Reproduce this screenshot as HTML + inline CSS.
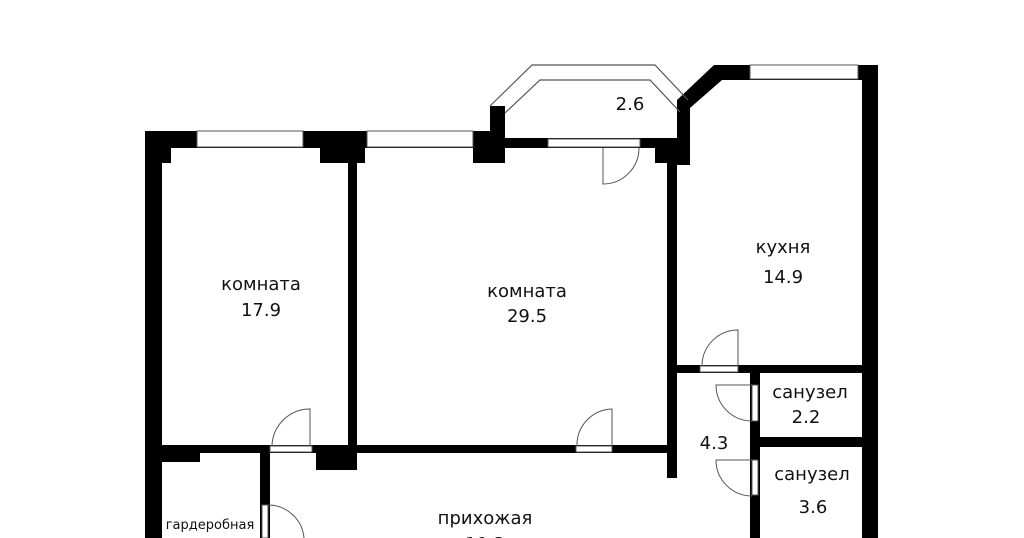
<!DOCTYPE html>
<html><head><meta charset="utf-8"><style>
html,body{margin:0;padding:0;background:#fff;}
svg{display:block;}
text{font-family:"DejaVu Sans","Liberation Sans",sans-serif;fill:#111;text-anchor:middle;}
</style></head><body>
<svg width="1024" height="538" viewBox="0 0 1024 538" xmlns="http://www.w3.org/2000/svg">
<rect width="1024" height="538" fill="#fff"/>
<g fill="#000">
<rect x="145" y="131" width="208" height="17"/>
<rect x="145" y="131" width="26" height="32"/>
<rect x="145" y="131" width="17" height="407"/>
<rect x="303" y="131" width="62" height="17"/>
<rect x="320" y="131" width="45" height="32"/>
<rect x="348" y="131" width="9" height="322"/>
<rect x="357" y="131" width="148" height="17"/>
<rect x="473" y="131" width="32" height="32"/>
<rect x="490" y="106" width="15" height="42"/>
<rect x="505" y="138" width="175" height="10"/>
<rect x="655" y="138" width="25" height="25"/>
<rect x="667" y="138" width="10" height="340"/>
<polygon points="677,100 690,92 690,165 677,165"/>
<polygon points="677,100 714,65 722,65 722,80 690,108"/>
<rect x="714" y="65" width="164" height="15"/>
<rect x="862" y="65" width="16" height="473"/>
<rect x="677" y="365" width="185" height="8"/>
<rect x="750" y="365" width="10" height="173"/>
<rect x="750" y="437" width="112" height="10"/>
<rect x="145" y="445" width="522" height="8"/>
<rect x="316" y="445" width="41" height="25"/>
<rect x="162" y="445" width="38" height="17"/>
<rect x="260" y="445" width="10" height="93"/>
</g>
<g fill="#fff" stroke="#555" stroke-width="1">
<rect x="197" y="131" width="106" height="16"/>
<rect x="367" y="131" width="106" height="16"/>
<rect x="548" y="139" width="92" height="8"/>
<rect x="750" y="65" width="108" height="14"/>
<rect x="700" y="366" width="38" height="6"/>
<rect x="270" y="446" width="42" height="6"/>
<rect x="576" y="446" width="36" height="6"/>
<rect x="752" y="385" width="6" height="36"/>
<rect x="752" y="460" width="6" height="35"/>
<rect x="262" y="505" width="6" height="33"/>
</g>
<g fill="none" stroke="#555" stroke-width="1.2">
<polyline points="490,106 532,65 655,65 688,100"/>
<polyline points="505,113 540,80 650,80 680,112"/>
</g>
<g fill="none" stroke="#555" stroke-width="1">
<path d="M603,148 L603,184 A36,36 0 0 0 639,148"/>
<path d="M738,368 L738,330 A36,36 0 0 0 702,366"/>
<path d="M310,446 L310,409 A38,38 0 0 0 272,446"/>
<path d="M612,446 L612,409 A36,36 0 0 0 577,446"/>
<path d="M752,385 L716,385 A36,36 0 0 0 752,421"/>
<path d="M752,460 L716,460 A36,36 0 0 0 752,496"/>
<path d="M268,505 A36,36 0 0 1 304,538"/>
</g>
<text x="261" y="290" font-size="18">комната</text>
<text x="261" y="316" font-size="18">17.9</text>
<text x="527" y="297" font-size="18">комната</text>
<text x="527" y="322" font-size="18">29.5</text>
<text x="783" y="253" font-size="18">кухня</text>
<text x="783" y="283" font-size="18">14.9</text>
<text x="630" y="110" font-size="18">2.6</text>
<text x="810" y="398" font-size="18">санузел</text>
<text x="806" y="423" font-size="18">2.2</text>
<text x="714" y="449" font-size="18">4.3</text>
<text x="812" y="480" font-size="18">санузел</text>
<text x="813" y="513" font-size="18">3.6</text>
<text x="210" y="529" font-size="13">гардеробная</text>
<text x="485" y="524" font-size="18">прихожая</text>
<text x="485" y="550" font-size="18">10.3</text>
</svg>
</body></html>
